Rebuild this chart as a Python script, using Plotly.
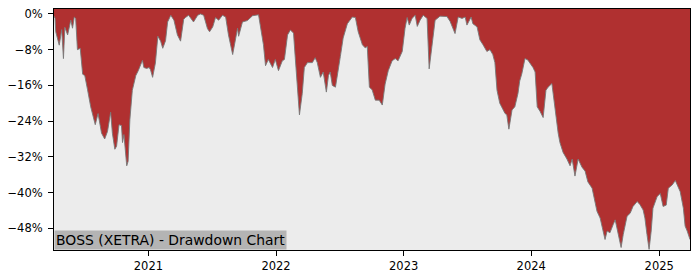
import plotly.graph_objects as go

dates = [
    "2020-04-06", "2020-04-09", "2020-04-11", "2020-04-21", "2020-04-28", "2020-05-03", "2020-05-07",
    "2020-05-15", "2020-05-24", "2020-05-29", "2020-06-03", "2020-06-07", "2020-06-12", "2020-06-20",
    "2020-06-27", "2020-07-03", "2020-07-11", "2020-07-20", "2020-08-02", "2020-08-10", "2020-08-20",
    "2020-08-29", "2020-09-06", "2020-09-15", "2020-09-20", "2020-09-27", "2020-10-02", "2020-10-09",
    "2020-10-16", "2020-10-19", "2020-10-23", "2020-10-31", "2020-11-04", "2020-11-09", "2020-11-16",
    "2020-11-26", "2020-12-03", "2020-12-08", "2020-12-15", "2020-12-19", "2020-12-27",
    "2021-01-03", "2021-01-07", "2021-01-13", "2021-01-21", "2021-01-28", "2021-02-05", "2021-02-11",
    "2021-02-19", "2021-02-25", "2021-03-06", "2021-03-15", "2021-03-25", "2021-04-03", "2021-04-12",
    "2021-04-17", "2021-04-26", "2021-05-10", "2021-05-22", "2021-05-30", "2021-06-08", "2021-06-19",
    "2021-06-25", "2021-07-04", "2021-07-12", "2021-07-21", "2021-08-01", "2021-08-10", "2021-08-18",
    "2021-08-30", "2021-09-07", "2021-09-13", "2021-09-16", "2021-09-27", "2021-10-11", "2021-10-26",
    "2021-11-12", "2021-11-17", "2021-11-26", "2021-12-02", "2021-12-10", "2021-12-22", "2021-12-30",
    "2022-01-08", "2022-01-19", "2022-01-25", "2022-02-03", "2022-02-11", "2022-02-20", "2022-02-25",
    "2022-03-03", "2022-03-09", "2022-03-17", "2022-03-23", "2022-04-01", "2022-04-15", "2022-04-23",
    "2022-04-29", "2022-05-08", "2022-05-16", "2022-05-25", "2022-05-31", "2022-06-05", "2022-06-11",
    "2022-06-20", "2022-06-25", "2022-07-04", "2022-07-12", "2022-07-24", "2022-08-07", "2022-08-16",
    "2022-08-24", "2022-09-05", "2022-09-13", "2022-09-19", "2022-09-25", "2022-10-03", "2022-10-12",
    "2022-10-23", "2022-11-01", "2022-11-09", "2022-11-18", "2022-11-29", "2022-12-08", "2022-12-16",
    "2022-12-28",
    "2023-01-05", "2023-01-11", "2023-01-17", "2023-01-25", "2023-02-03", "2023-02-09", "2023-02-17",
    "2023-02-26", "2023-03-09", "2023-03-15", "2023-03-23", "2023-04-01", "2023-04-15", "2023-05-05",
    "2023-05-14", "2023-05-28", "2023-06-06", "2023-06-17", "2023-06-26", "2023-07-01", "2023-07-13",
    "2023-07-18", "2023-07-30", "2023-08-07", "2023-08-16", "2023-08-27", "2023-09-05", "2023-09-13",
    "2023-09-19", "2023-09-25", "2023-10-03", "2023-10-12", "2023-10-18", "2023-10-23", "2023-10-29",
    "2023-11-07", "2023-11-15", "2023-11-24", "2023-11-29", "2023-12-05", "2023-12-14", "2023-12-22",
    "2023-12-31",
    "2024-01-06", "2024-01-12", "2024-01-18", "2024-01-26", "2024-02-04", "2024-02-12", "2024-02-18",
    "2024-02-29", "2024-03-09", "2024-03-18", "2024-03-23", "2024-04-01", "2024-04-12", "2024-04-21",
    "2024-04-27", "2024-05-05", "2024-05-14", "2024-05-25", "2024-06-03", "2024-06-11", "2024-06-23",
    "2024-07-01", "2024-07-07", "2024-07-16", "2024-07-24", "2024-07-30", "2024-08-05", "2024-08-13",
    "2024-08-22", "2024-08-28", "2024-09-02", "2024-09-08", "2024-09-14", "2024-09-20", "2024-10-01",
    "2024-10-10", "2024-10-18", "2024-10-30", "2024-11-07", "2024-11-16", "2024-11-21", "2024-11-27",
    "2024-12-03", "2024-12-09", "2024-12-14", "2024-12-26",
    "2025-01-04", "2025-01-12", "2025-01-21", "2025-01-27", "2025-02-07", "2025-02-16", "2025-02-21",
    "2025-03-02", "2025-03-11", "2025-03-16", "2025-03-22", "2025-03-28", "2025-03-30",
]

drawdown = [
    -0.5, -1.0, -4.0, -7.0, -3.5, -10.0, -3.0,
    -4.7, -1.4, -3.2, -0.7, -1.0, -8.0, -7.7,
    -13.5, -13.8, -17.0, -20.8, -24.8, -22.3, -26.7,
    -28.0, -26.3, -22.0, -26.7, -30.3, -29.6, -24.8,
    -25.0, -28.8, -27.0, -34.0, -33.0, -23.7, -17.1,
    -13.8, -12.7, -11.6, -10.4, -12.0, -12.2,
    -12.0, -12.5, -14.2, -11.0, -5.0, -6.1, -7.7,
    -6.0, -1.8, -0.3, -1.4, -4.7, -6.1, -1.2,
    -0.8, -0.3, -1.8, -0.3, 0.0, -0.3, -3.3,
    -4.0, -2.9, -0.8, -1.4, -0.3, -0.7, -4.7,
    -9.1, -5.4, -3.2, -5.0, -1.8, -1.5, -0.4,
    -0.2, -2.5, -6.9, -11.6, -10.2, -12.0, -10.2,
    -12.7, -10.5, -10.2, -4.7, -3.6, -4.3, -9.8,
    -16.4, -22.6, -17.8, -12.0, -10.9, -10.9, -9.8,
    -10.9, -14.2, -13.0, -17.5, -13.8, -13.0, -16.0,
    -16.4, -14.2, -9.5, -5.4, -2.2, -0.7, -0.8,
    -4.0, -6.9, -7.6, -7.3, -16.4, -17.0, -19.3,
    -19.3, -20.4, -15.7, -12.7, -10.5, -10.0, -10.5,
    -8.4,
    -3.2, -0.8, -2.5, -1.0, -0.3, -2.8, -1.4,
    -0.3, -1.0, -12.3, -7.6, -1.4, -0.5, -0.6,
    -1.7, -4.4, -0.7, -1.0, -0.7, -2.5, -0.7,
    -2.2, -2.9, -5.8, -6.9, -8.4, -8.0, -9.1,
    -10.9, -17.1, -20.0, -21.5, -22.3, -22.6, -25.8,
    -21.5, -20.8, -17.8, -15.0, -13.4, -10.0, -10.3,
    -11.2,
    -12.0, -13.0, -20.8, -21.8, -23.2, -17.1, -16.4,
    -15.6, -21.5, -26.7, -28.8, -31.0, -32.5, -34.0,
    -32.5, -36.3, -32.5, -34.3, -35.2, -37.6, -39.0,
    -42.0, -44.2, -45.7, -48.3, -50.5, -48.6, -49.0,
    -47.2, -46.1, -47.9, -50.1, -52.3, -49.4, -45.3,
    -44.6, -43.1, -42.0, -42.7, -43.9, -45.7, -49.4,
    -52.7, -48.6, -43.5, -40.9,
    -40.2, -43.1, -42.8, -39.0, -38.3, -37.3, -38.3,
    -39.8, -43.5, -47.5, -48.6, -50.1, -50.5,
]

y_ticks = [0, -8, -16, -24, -32, -40, -48]
y_tick_labels = ["0%", "\u22128%", "\u221216%", "\u221224%", "\u221232%", "\u221240%", "\u221248%"]
title_text = "BOSS (XETRA) - Drawdown Chart"

RED = "#b03030"
Y_TOP = 1.1
Y_BOTTOM = -52.85

fig = go.Figure()
fig.add_trace(go.Scatter(
    x=dates, y=drawdown, mode="lines", fill="tozeroy",
    fillcolor=RED, line=dict(color="rgba(120,120,120,0.9)", width=1),
    hoverinfo="skip", showlegend=False,
))

fig.add_shape(type="rect", xref="paper", yref="y", x0=0, x1=1, y0=0, y1=Y_TOP,
              fillcolor=RED, line=dict(width=0), layer="below")

fig.add_annotation(
    text=title_text, xref="paper", yref="paper", x=0, y=0,
    xanchor="left", yanchor="bottom", showarrow=False,
    bgcolor="#b4b4b4", borderpad=1,
    font=dict(family="DejaVu Sans", size=13.9, color="black"),
)

axis_common = dict(showline=True, linecolor="black", linewidth=1, mirror=True,
                   ticks="outside", ticklen=5, tickcolor="black", tickwidth=1,
                   showgrid=False, zeroline=False,
                   tickfont=dict(family="DejaVu Sans", size=11.5, color="black"))

fig.update_xaxes(range=["2020-04-06", "2025-03-30"], tickformat="%Y",
                 dtick="M12", tick0="2021-01-01", **axis_common)
fig.update_yaxes(range=[Y_BOTTOM, Y_TOP], tickvals=y_ticks, ticktext=y_tick_labels,
                 ticklabelstandoff=3, **axis_common)

fig.update_layout(
    width=700, height=280,
    margin=dict(l=53, r=10, t=7, b=28),
    plot_bgcolor="#ececec", paper_bgcolor="white",
    font=dict(family="DejaVu Sans"),
)

fig.write_html("out.html")
